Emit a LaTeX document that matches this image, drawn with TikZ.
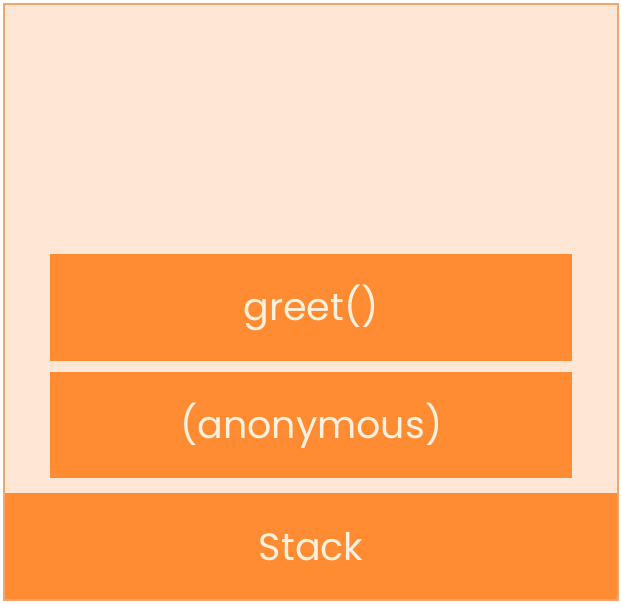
\documentclass[tikz,border=0pt]{standalone}
\usepackage{fontspec}
\setmainfont{Poppins}
\definecolor{stackbg}{HTML}{FFE6D5}
\definecolor{stackline}{HTML}{F2A56E}
\definecolor{frameorange}{HTML}{FF8C33}
\definecolor{labelcream}{HTML}{FFF1DE}
\tikzset{
  frame/.style={fill=frameorange, draw=none, text=labelcream,
    font=\fontsize{38}{44}\selectfont, inner sep=0pt},
}
\begin{document}
\begin{tikzpicture}[x=1pt,y=-1pt]
  \useasboundingbox (0,0) rectangle (621,604);
  % stack area
  \fill[stackbg] (4,4) rectangle (618,600);
  \node[frame, minimum width=614pt, minimum height=107pt, anchor=north west]
    (stack) at (4,493) {Stack};
  \draw[stackline, line width=2.5pt] (4,4) rectangle (618,600);
  % frames on the stack
  \node[frame, minimum width=522pt, minimum height=106pt, anchor=north west]
    (anon) at (50,372) {(anonymous)};
  \node[frame, minimum width=522pt, minimum height=107pt, anchor=north west]
    (greet) at (50,254) {greet()};
\end{tikzpicture}
\end{document}
